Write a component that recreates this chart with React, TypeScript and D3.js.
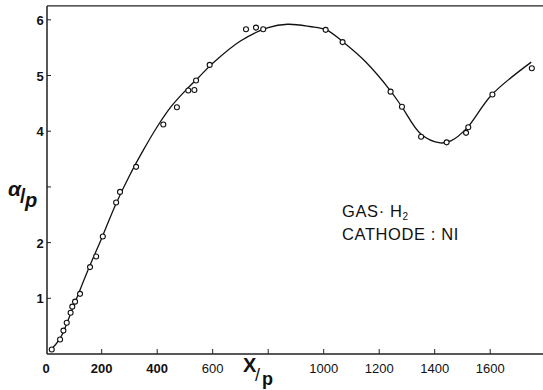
import React from "react";
import * as d3 from "d3";

const pointX = [20, 50, 62, 74, 88, 94, 104, 122, 158, 180, 204, 252, 266, 324, 422, 471, 512, 534, 540, 589, 720, 756, 782, 1007, 1068, 1241, 1282, 1351, 1443, 1513, 1521, 1608, 1750];
const pointY = [0.08, 0.26, 0.42, 0.56, 0.74, 0.85, 0.94, 1.08, 1.56, 1.75, 2.11, 2.72, 2.91, 3.36, 4.12, 4.43, 4.73, 4.74, 4.91, 5.19, 5.83, 5.86, 5.83, 5.82, 5.6, 4.71, 4.44, 3.9, 3.8, 3.97, 4.07, 4.66, 5.13];

const curveX = [18, 50, 100, 150, 200, 250, 300, 350, 400, 450, 500, 550, 600, 700, 800, 870, 950, 1010, 1070, 1150, 1240, 1280, 1350, 1420, 1460, 1515, 1605, 1748];
const curveY = [0.08, 0.28, 0.88, 1.5, 2.08, 2.68, 3.2, 3.66, 4.08, 4.44, 4.72, 4.97, 5.22, 5.62, 5.86, 5.92, 5.88, 5.82, 5.6, 5.25, 4.73, 4.45, 3.95, 3.79, 3.83, 4.05, 4.65, 5.24];

const xTicks = [200, 400, 600, 800, 1000, 1200, 1400, 1600];
const xTickLabels = ["200", "400", "600", "", "1000", "1200", "1400", "1600"];
const yTicks = [1, 2, 3, 4, 5, 6];
const yTickLabels = ["1", "2", "", "4", "5", "6"];

export default function App() {
  const x = d3.scaleLinear().domain([0, 1800]).range([46.2, 46.2 + 1800 * 0.2775]);
  const y = d3.scaleLinear().domain([0, 6.25]).range([354, 354 - 6.25 * 55.7]);
  const line = d3
    .line<number>()
    .x((_, i) => x(curveX[i]))
    .y((d) => y(d))
    .curve(d3.curveCatmullRom.alpha(0.5));
  const left = x(0) + 0.8;
  const bottom = y(0);
  const top = y(6.25);
  const font = "'Liberation Sans', Arial, sans-serif";
  return (
    <svg width={543} height={390} style={{ position: "absolute", left: 0, top: 0, background: "#fff" }}>
      <rect x={0} y={0} width={543} height={390} fill="#fff" />
      <line x1={left} y1={top} x2={543} y2={top} stroke="#222" strokeWidth={1.3} />
      <line x1={left} y1={top} x2={left} y2={bottom} stroke="#111" strokeWidth={1.4} />
      <line x1={left} y1={bottom} x2={543} y2={bottom} stroke="#222" strokeWidth={1.3} />
      {yTicks.map((t, i) => (
        <g key={"y" + t}>
          <line x1={left} x2={left + 4} y1={y(t)} y2={y(t)} stroke="#222" strokeWidth={1} />
          {yTickLabels[i] && (
            <text x={40} y={y(t) + 5} textAnchor="middle" fontFamily={font} fontWeight="bold" fontSize={13} fill="#111">
              {yTickLabels[i]}
            </text>
          )}
        </g>
      ))}
      <text x={46} y={373} textAnchor="middle" fontFamily={font} fontWeight="bold" fontSize={13} fill="#111">0</text>
      {xTicks.map((t, i) => (
        <g key={"x" + t}>
          <line x1={x(t)} x2={x(t)} y1={bottom} y2={bottom - 5} stroke="#222" strokeWidth={1} />
          {xTickLabels[i] && (
            <text x={x(t)} y={373} textAnchor="middle" fontFamily={font} fontWeight={i < 2 ? "bold" : "normal"} fontSize={13} fill="#111">
              {xTickLabels[i]}
            </text>
          )}
        </g>
      ))}
      <path d={line(curveY) || ""} fill="none" stroke="#111" strokeWidth={1.3} />
      {pointX.map((px, i) => (
        <circle key={i} cx={x(px)} cy={y(pointY[i])} r={2.5} fill="#fff" stroke="#111" strokeWidth={1.1} />
      ))}
      <g fontFamily={font} fill="#111">
        <text x={8} y={196} fontSize={21} fontStyle="italic" fontWeight="bold">α</text>
        <text x={20} y={203} fontSize={20} fontWeight="bold">/</text>
        <text x={25} y={207} fontSize={20} fontStyle="italic" fontWeight="bold">p</text>
      </g>
      <g fontFamily={font} fill="#111">
        <text x={243} y={372} fontSize={20} fontWeight="bold">X</text>
        <text x={255} y={381} fontSize={18}>/</text>
        <text x={262} y={385} fontSize={18} fontWeight="bold">p</text>
      </g>
      <g fontFamily={font} fill="#111" fontSize={16.5} letterSpacing={0.6}>
        <text x={342} y={217}>GAS· H<tspan fontSize={10} dy={3}>2</tspan></text>
        <text x={342} y={240}>CATHODE : NI</text>
      </g>
    </svg>
  );
}
